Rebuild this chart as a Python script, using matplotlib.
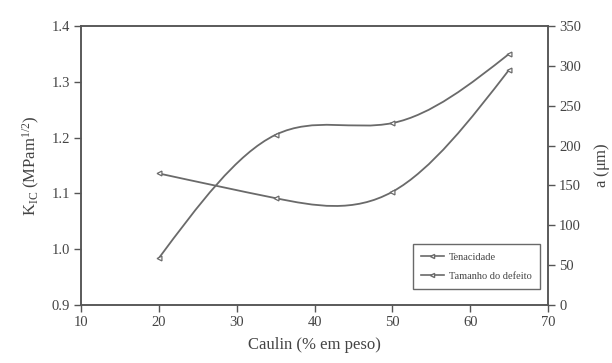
import numpy as np
import matplotlib
matplotlib.use('Agg')
import matplotlib.pyplot as plt
from matplotlib.path import Path
from matplotlib.patches import PathPatch
from matplotlib.lines import Line2D

plt.rcParams['font.family'] = ['Liberation Serif', 'DejaVu Serif']
plt.rcParams['mathtext.default'] = 'regular'

# data
caulin = [20, 35, 50, 65]
tenacidade = [0.984, 1.205, 1.226, 1.35]   # K_IC (MPa m^1/2)
defeito = [165, 134, 142, 295]              # a (um)

labels = ['Tenacidade', 'Tamanho do defeito']
xticks = [10, 20, 30, 40, 50, 60, 70]
yticks_l = [0.9, 1.0, 1.1, 1.2, 1.3, 1.4]
yticks_r = [0, 50, 100, 150, 200, 250, 300, 350]

gray = '#6a6a6a'
txt = '#444444'


def spline_path(x, y):
    # natural cubic spline, drawn as bezier segments by matplotlib
    x = np.asarray(x, float)
    y = np.asarray(y, float)
    n = len(x)
    h = np.diff(x)
    A = np.zeros((n, n))
    b = np.zeros(n)
    A[0, 0] = A[-1, -1] = 1
    for i in range(1, n - 1):
        A[i, i - 1] = h[i - 1]
        A[i, i] = 2 * (h[i - 1] + h[i])
        A[i, i + 1] = h[i]
        b[i] = 6 * ((y[i + 1] - y[i]) / h[i] - (y[i] - y[i - 1]) / h[i - 1])
    M = np.linalg.solve(A, b)
    verts = [(x[0], y[0])]
    codes = [Path.MOVETO]
    for i in range(n - 1):
        s = (y[i + 1] - y[i]) / h[i]
        d0 = s - h[i] * (2 * M[i] + M[i + 1]) / 6
        d1 = s + h[i] * (M[i] + 2 * M[i + 1]) / 6
        verts += [(x[i] + h[i] / 3, y[i] + h[i] / 3 * d0),
                  (x[i + 1] - h[i] / 3, y[i + 1] - h[i] / 3 * d1),
                  (x[i + 1], y[i + 1])]
        codes += [Path.CURVE4] * 3
    return Path(verts, codes)


fig = plt.figure(figsize=(6.12, 3.63), dpi=100)
ax = fig.add_axes([0.1324, 0.1598, 0.7630, 0.7686])
ax2 = ax.twinx()

ax.add_patch(PathPatch(spline_path(caulin, tenacidade), fill=False,
                       edgecolor=gray, lw=1.3))
ax.plot(caulin, tenacidade, ls='none', marker='<', ms=3.5, mfc='white',
        mec=gray, mew=0.9)
ax2.add_patch(PathPatch(spline_path(caulin, defeito), fill=False,
                        edgecolor=gray, lw=1.3))
ax2.plot(caulin, defeito, ls='none', marker='<', ms=3.5, mfc='white',
         mec=gray, mew=0.9)

ax.set_xlim(10, 70)
ax.set_ylim(0.9, 1.4)
ax2.set_ylim(0, 350)
ax.set_xticks(xticks)
ax.set_yticks(yticks_l)
ax.set_yticklabels(['%.1f' % v for v in yticks_l])
ax2.set_yticks(yticks_r)

for a in (ax, ax2):
    for sp in a.spines.values():
        sp.set_color('#555555')
        sp.set_linewidth(1.1)
    a.tick_params(direction='out', length=5, width=1.0, color='#555555',
                  labelsize=10.5, labelcolor=txt, pad=3)

ax.set_xlabel('Caulin (% em peso)', fontsize=12, color=txt, labelpad=6)
ax.set_ylabel(r'K$_{IC}$ (MPam$^{1/2}$)', fontsize=12, color=txt, labelpad=7)
ax2.set_ylabel(r'a ($\mu$m)', fontsize=12, color=txt, labelpad=8)

handles = [Line2D([], [], color=gray, lw=1.2, marker='<', ms=3, mfc='white', mec=gray),
           Line2D([], [], color=gray, lw=1.2, marker='<', ms=3, mfc='white', mec=gray)]
leg = ax2.legend(handles, labels, loc='lower right', bbox_to_anchor=(0.983, 0.057),
                 borderaxespad=0, fontsize=7.5, frameon=True, fancybox=False,
                 handlelength=2.2, borderpad=0.8, labelspacing=0.9,
                 handletextpad=0.5)
leg.get_frame().set_edgecolor('#444444')
leg.get_frame().set_linewidth(1.0)
for t in leg.get_texts():
    t.set_color(txt)

fig.savefig('out.png', dpi=100)
